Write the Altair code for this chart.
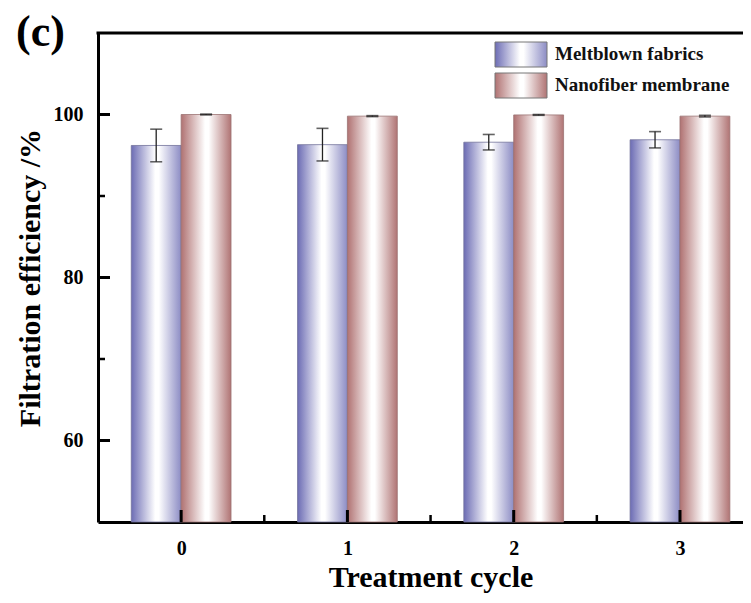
import altair as alt
import pandas as pd

# ---- data ----
cycles = [0, 1, 2, 3]
series = ["Meltblown fabrics", "Nanofiber membrane"]
meltblown = [96.2, 96.3, 96.6, 96.9]
meltblown_err = [2.0, 2.0, 0.95, 1.0]
nanofiber = [100.0, 99.8, 99.95, 99.8]
nanofiber_err = [0.05, 0.06, 0.05, 0.1]
y_major = [60, 80, 100]
y_minor = [70, 90]
x_minor = [0.5, 1.5, 2.5]

W, H = 645, 489
BAR = 0.3
FONT = "Liberation Serif"
XMIN, XMAX, YMIN, YMAX = -0.5, 3.379, 50, 110
XU = W / (XMAX - XMIN)   # px per x unit
YU = H / (YMAX - YMIN)   # px per y unit


def frame(vals, errs, side):
    rows = []
    for c, v, e in zip(cycles, vals, errs):
        left = c - BAR if side == 0 else c
        rows.append({"cycle": c, "value": v, "left": left, "right": left + BAR,
                     "center": left + BAR / 2, "lo": v - e, "hi": v + e})
    return pd.DataFrame(rows)


dm = frame(meltblown, meltblown_err, 0)
dn = frame(nanofiber, nanofiber_err, 1)

xs = alt.Scale(domain=[XMIN, XMAX], nice=False, zero=False)
ys = alt.Scale(domain=[YMIN, YMAX], nice=False, zero=False)

grad_blue = alt.LinearGradient(
    gradient="linear", x1=0, x2=1, y1=0, y2=0,
    stops=[alt.GradientStop(color="#6c6cb4", offset=0),
           alt.GradientStop(color="#ffffff", offset=0.48),
           alt.GradientStop(color="#ffffff", offset=0.55),
           alt.GradientStop(color="#8c8cc4", offset=1)])
grad_red = alt.LinearGradient(
    gradient="linear", x1=0, x2=1, y1=0, y2=0,
    stops=[alt.GradientStop(color="#b07272", offset=0),
           alt.GradientStop(color="#ffffff", offset=0.48),
           alt.GradientStop(color="#ffffff", offset=0.55),
           alt.GradientStop(color="#b07474", offset=1)])
grads = [grad_blue, grad_red]

x_axis = alt.Axis(values=cycles, title="Treatment cycle", ticks=False, grid=False,
                  labelPadding=16, titleX=W / 2 + 10, titleY=40, titleFontSize=30,
                  titleBaseline="top", titleAlign="center", format="d")
y_axis = alt.Axis(values=y_major, title="Filtration efficiency /%", ticks=False,
                  grid=False, labelPadding=15, titlePadding=8, titleFontSize=30)


def X(f):
    return alt.X(f, scale=xs)


def Y(f):
    return alt.Y(f, scale=ys)


bars_m = alt.Chart(dm).mark_rect(color=grad_blue, stroke="#74749c", strokeWidth=0.8).encode(
    x=alt.X("left:Q", scale=xs, axis=x_axis), x2="right:Q",
    y=alt.Y("value:Q", scale=ys, axis=y_axis), y2=alt.datum(YMIN))
bars_n = alt.Chart(dn).mark_rect(color=grad_red, stroke="#9c7474", strokeWidth=0.8).encode(
    x=X("left:Q"), x2="right:Q", y=Y("value:Q"), y2=alt.datum(YMIN))

derr = pd.concat([dm, dn])
err_rule = alt.Chart(derr).mark_rule(color="#222222", strokeWidth=1.3).encode(
    x=X("center:Q"), y=Y("lo:Q"), y2="hi:Q")
cap_hi = alt.Chart(derr).mark_tick(orient="horizontal", size=12, thickness=1.6, color="#222222").encode(
    x=X("center:Q"), y=Y("hi:Q"))
cap_lo = alt.Chart(derr).mark_tick(orient="horizontal", size=12, thickness=1.6, color="#222222").encode(
    x=X("center:Q"), y=Y("lo:Q"))


# inward ticks: short rules from the frame into the plot
def ytick_df(vals, length_px):
    return pd.DataFrame({"v": vals, "a": [XMIN] * len(vals),
                         "b": [XMIN + length_px / XU] * len(vals)})


def xtick_df(vals, length_px):
    return pd.DataFrame({"u": vals, "c": [YMIN] * len(vals),
                         "d": [YMIN + length_px / YU] * len(vals)})


ymaj = alt.Chart(ytick_df(y_major, 12)).mark_rule(color="black", strokeWidth=3).encode(
    y=Y("v:Q"), x=X("a:Q"), x2="b:Q")
ymin = alt.Chart(ytick_df(y_minor, 7)).mark_rule(color="black", strokeWidth=2.5).encode(
    y=Y("v:Q"), x=X("a:Q"), x2="b:Q")
xmaj = alt.Chart(xtick_df(cycles, 12)).mark_rule(color="black", strokeWidth=3).encode(
    x=X("u:Q"), y=Y("c:Q"), y2="d:Q")
xmin = alt.Chart(xtick_df(x_minor, 7)).mark_rule(color="black", strokeWidth=2.5).encode(
    x=X("u:Q"), y=Y("c:Q"), y2="d:Q")

one = pd.DataFrame({"k": [0]})
top_rule = alt.Chart(one).mark_rule(color="black", strokeWidth=3).encode(
    x=alt.value(-1.5), x2=alt.value(W + 2), y=alt.value(0))

panel_label = alt.Chart(one).mark_text(
    text="(c)", font=FONT, fontWeight="bold", fontSize=44, align="left",
    baseline="alphabetic", color="black").encode(x=alt.value(-82), y=alt.value(13))

legend_layers = []
for i, name in enumerate(series):
    d = pd.DataFrame({"name": [name]})
    legend_layers.append(
        alt.Chart(d).mark_rect(color=grads[i], stroke="#777777", strokeWidth=1).encode(
            x=alt.value(397), x2=alt.value(449),
            y=alt.value(9 + 31 * i), y2=alt.value(34 + 31 * i)))
    legend_layers.append(
        alt.Chart(d).mark_text(font=FONT, fontWeight="bold", fontSize=19, align="left",
                               baseline="middle", color="#111111").encode(
            x=alt.value(457), y=alt.value(21 + 31 * i), text="name:N"))

chart = alt.layer(
    bars_m, bars_n, err_rule, cap_hi, cap_lo, top_rule,
    panel_label, *legend_layers, ymaj, ymin, xmaj, xmin
).properties(
    width=W, height=H,
    autosize=alt.AutoSizeParams(type="none"),
    padding={"left": 90, "top": 25, "right": 0, "bottom": 73},
).configure_view(stroke=None).configure_axis(
    domainColor="black", domainWidth=3,
    labelFont=FONT, labelFontWeight="bold", labelFontSize=20, labelColor="black",
    titleFont=FONT, titleFontWeight="bold", titleColor="black",
)

chart.save("out.html", embed_options={"renderer": "svg", "actions": False})
